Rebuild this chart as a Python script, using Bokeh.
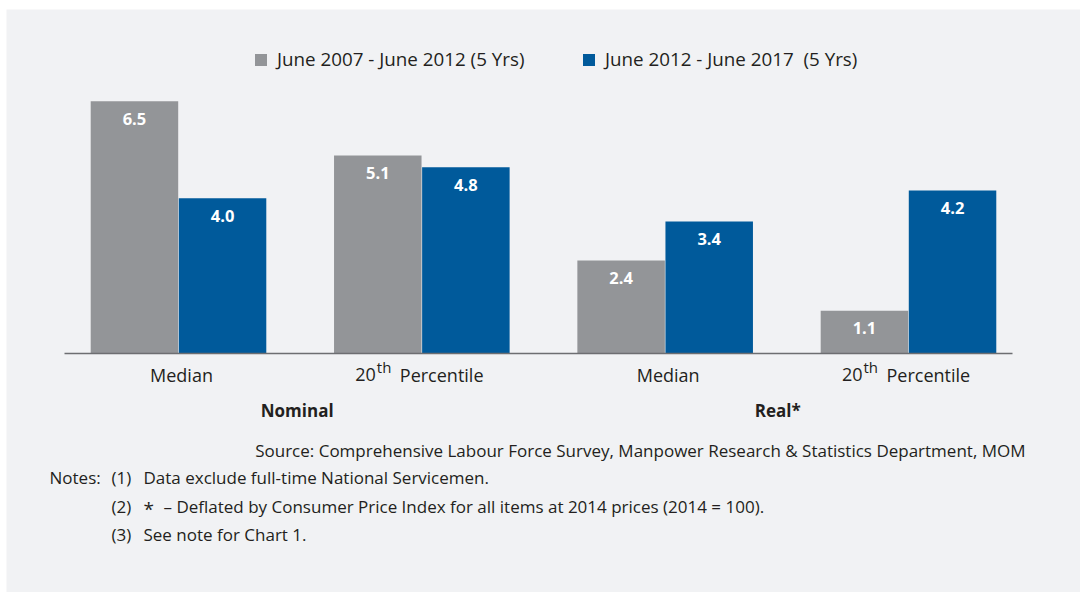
from bokeh.plotting import figure
from bokeh.models import ColumnDataSource, Legend, LegendItem
from bokeh.core.properties import value
from bokeh.embed import file_html
from bokeh.resources import INLINE

# ---- data ----
categories = ["Median", "20th Percentile", "Median", "20th Percentile"]
groups = ["Nominal", "Real*"]
series_names = ["June 2007 - June 2012 (5 Yrs)", "June 2012 - June 2017  (5 Yrs)"]
values_2007_2012 = [6.5, 5.1, 2.4, 1.1]
values_2012_2017 = [4.0, 4.8, 3.4, 4.2]
source_text = "Source: Comprehensive Labour Force Survey, Manpower Research & Statistics Department, MOM"
notes = ["Data exclude full-time National Servicemen.",
         "– Deflated by Consumer Price Index for all items at 2014 prices (2014 = 100).",
         "See note for Chart 1."]

# ---- layout ----
W, H = 1080, 592
BL, BT = 6, 9                 # white strip left / top
FW, FH = W - BL, H - BT       # frame size
ORIGIN_X, ORIGIN_Y = BL, BT
UNIT_X = 243.33   # px per category
UNIT_Y = 38.8     # px per value unit
X0_PAGE = 178     # page x of first category centre
Y0_PAGE = 353     # page y of zero line
BASE_FIX = -8     # correction for alphabetic baseline placement
xs = -(X0_PAGE - ORIGIN_X) / UNIT_X
xe = xs + FW / UNIT_X
ye = (Y0_PAGE - ORIGIN_Y) / UNIT_Y
ys = ye - FH / UNIT_Y

def px2x(px):
    return xs + (px - ORIGIN_X) / UNIT_X

def px2y(py):
    return ye - (py + BASE_FIX - ORIGIN_Y) / UNIT_Y

GRAY = "#939598"
BLUE = "#005a9b"
BG = "#f1f2f4"
TXT = "#231f20"
FONT = "Open Sans"

p = figure(width=W, height=H, x_range=(xs, xe), y_range=(ys, ye),
           x_axis_type=None, y_axis_type=None, toolbar_location=None,
           output_backend="svg", min_border=0,
           min_border_left=BL, min_border_top=BT)
p.background_fill_color = BG
p.border_fill_color = "white"
p.outline_line_color = None
p.xgrid.visible = False
p.ygrid.visible = False

xpos = list(range(len(categories)))
dodge = 0.181
bw = 0.3596
src = ColumnDataSource(dict(
    x1=[x - dodge for x in xpos], x2=[x + dodge for x in xpos],
    v1=values_2007_2012, v2=values_2012_2017,
    t1=[f"{v:.1f}" for v in values_2007_2012],
    t2=[f"{v:.1f}" for v in values_2012_2017],
))
r1 = p.vbar(x="x1", top="v1", width=bw, bottom=0, source=src,
            fill_color=GRAY, line_color=None)
r2 = p.vbar(x="x2", top="v2", width=bw, bottom=0, source=src,
            fill_color=BLUE, line_color=None)

# zero line
p.segment(x0=[px2x(64)], y0=[0], x1=[px2x(1012)], y1=[0],
          line_color="#6d6e71", line_width=1.5)

# value labels
for xcol, tcol, vcol in (("x1", "t1", "v1"), ("x2", "t2", "v2")):
    p.text(x=xcol, y=vcol, text=tcol, source=src, y_offset=17.5,
           text_align="center", text_baseline="middle",
           text_color="white", text_font=value(FONT),
           text_font_style="bold", text_font_size="16.5px")

# category labels
cat_y = px2y(382)
for x, c in zip(xpos, categories):
    if c.startswith("20th"):
        p.text(x=[x], y=[cat_y], text=["20"], x_offset=-46, text_align="right",
               text_baseline="alphabetic", text_color=TXT,
               text_font=value(FONT), text_font_size="18px")
        p.text(x=[x], y=[px2y(374)], text=["th"], x_offset=-45, text_align="left",
               text_baseline="alphabetic", text_color=TXT,
               text_font=value(FONT), text_font_size="15px")
        p.text(x=[x], y=[cat_y], text=["Percentile"], x_offset=-22, text_align="left",
               text_baseline="alphabetic", text_color=TXT,
               text_font=value(FONT), text_font_size="18px")
    else:
        p.text(x=[x], y=[cat_y], text=[c], x_offset=3, text_align="center",
               text_baseline="alphabetic", text_color=TXT,
               text_font=value(FONT), text_font_size="18px")

# group labels
grp_x = [0.5, 2.5]
grp_off = [-3, -9]
for gx, g, off in zip(grp_x, groups, grp_off):
    p.text(x=[gx], y=[px2y(418)], text=[g], x_offset=off, text_align="center",
           text_baseline="alphabetic", text_color=TXT, text_font=value(FONT),
           text_font_style="bold", text_font_size="17px")

# source
p.text(x=[px2x(1025)], y=[px2y(458)], text=[source_text], text_align="right",
       text_baseline="alphabetic", text_color=TXT, text_font=value(FONT),
       text_font_size="17px")

# notes
def note(px, py, t, size="17px"):
    p.text(x=[px2x(px)], y=[px2y(py)], text=[t], text_align="left",
           text_baseline="alphabetic", text_color=TXT, text_font=value(FONT),
           text_font_size=size)

note(49, 485, "Notes:")
note(111, 485, "(1)")
note(143, 485, notes[0])
note(111, 514, "(2)")
note(143, 516, "*", "19px")
note(163, 514, notes[1])
note(111, 542, "(3)")
note(143, 542, notes[2])

# legends
LH = 24
for r, name, gx in ((r1, series_names[0], 253), (r2, series_names[1], 581)):
    lg = Legend(items=[LegendItem(label=name, renderers=[r])],
                location=(gx - ORIGIN_X, (ORIGIN_Y + FH) - (60 + LH / 2)),
                orientation="horizontal", padding=0, margin=0,
                glyph_width=15, glyph_height=15, label_standoff=9,
                label_height=LH, border_line_color=None,
                background_fill_alpha=0,
                label_text_font=FONT, label_text_font_size="18.8px",
                label_text_color=TXT)
    p.add_layout(lg)

open("out.html", "w").write(file_html(p, INLINE))
